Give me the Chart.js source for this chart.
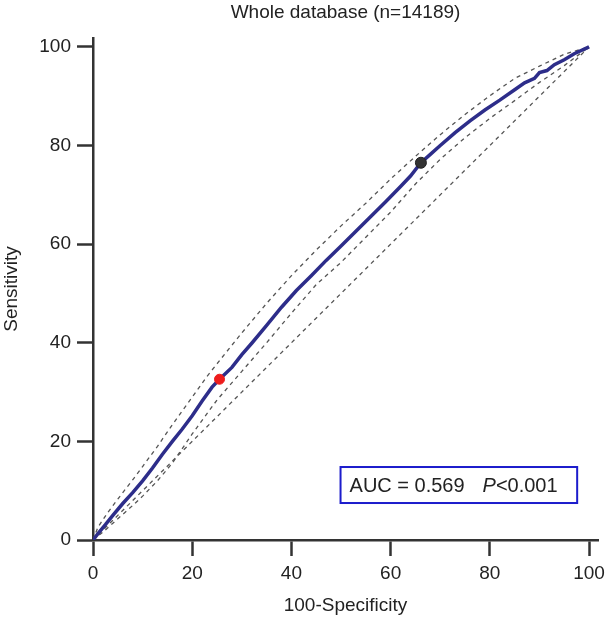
<!DOCTYPE html>
<html>
<head>
<meta charset="utf-8">
<title>Whole database (n=14189)</title>
<script src="https://cdn.jsdelivr.net/npm/chart.js@4.4.1/dist/chart.umd.min.js"></script>
<style>
  html, body { margin: 0; padding: 0; background: #fff; }
  #wrap { width: 606px; height: 619px; }
</style>
</head>
<body>
<div id="wrap"><canvas id="rocChart" width="606" height="619"></canvas></div>
<script>
  // ROC curve (100-specificity vs sensitivity)
  const rocX = [0, 1, 2.5, 4, 6, 8, 10, 12, 14, 16, 18, 20, 22, 24, 25.5, 28, 30, 32, 35, 38, 41, 44, 47, 50, 53, 56, 59, 62, 64, 66.1, 68, 70, 73, 76, 79, 82, 85, 87, 89, 90, 91.5, 93, 95, 97, 100];
  const rocY = [0, 1.3, 3.1, 5.0, 7.4, 9.6, 12.0, 14.6, 17.4, 20.0, 22.5, 25.2, 28.2, 31.0, 32.6, 35.0, 37.6, 39.9, 43.5, 47.2, 50.6, 53.6, 56.7, 59.6, 62.6, 65.6, 68.6, 71.7, 73.8, 76.5, 78.2, 80.0, 82.6, 85.0, 87.2, 89.2, 91.3, 92.7, 93.6, 94.8, 95.2, 96.4, 97.4, 98.6, 100];

  // 95% confidence bounds
  const ciUpX = [0, 1, 3, 5, 8, 10, 13, 16, 20, 23, 26, 30, 35, 40, 45, 50, 55, 60, 65, 70, 75, 80, 85, 90, 95, 100];
  const ciUpY = [0, 2.6, 5.6, 8.3, 12.2, 14.9, 19.0, 23.4, 29.0, 33.2, 37.0, 42.0, 48.0, 53.6, 58.8, 63.7, 68.3, 73.2, 77.8, 82.2, 86.3, 90.1, 93.6, 96.1, 98.5, 100];
  const ciLoX = [0, 2, 5, 8, 10, 13, 16, 20, 25, 30, 35, 40, 45, 50, 55, 60, 65, 70, 75, 80, 85, 90, 95, 100];
  const ciLoY = [0, 1.6, 4.3, 7.0, 8.9, 12.0, 15.6, 21.5, 28.4, 34.2, 40.0, 46.0, 51.8, 56.3, 61.4, 66.5, 72.2, 77.2, 81.6, 85.5, 89.1, 92.8, 96.2, 100];

  // chance line
  const diagX = [0, 100];
  const diagY = [0, 100];

  // marked cut-offs
  const redPoint = [25.5, 32.6];
  const blackPoint = [66.1, 76.5];

  const tickValues = [0, 20, 40, 60, 80, 100];
  const aucText = 'AUC = 0.569';
  const pText = '<0.001';

  const FONT = '"Liberation Sans", Arial, sans-serif';
  const AXIS = '#333333';

  function pts(xs, ys) {
    return xs.map((x, i) => ({ x, y: ys[i] }));
  }

  function dashed(xs, ys) {
    return {
      data: pts(xs, ys),
      xAxisID: 'x',
      yAxisID: 'y',
      showLine: true,
      borderColor: '#555555',
      borderWidth: 1.3,
      borderDash: [4, 4],
      pointRadius: 0,
      tension: 0
    };
  }

  // AUC label box in the lower right of the plot
  const aucBox = {
    id: 'aucBox',
    afterDatasetsDraw(chart) {
      const { ctx, scales: { x, y } } = chart;
      const left = x.getPixelForValue(49.9);
      const right = x.getPixelForValue(97.6);
      const top = y.getPixelForValue(14.8);
      const bottom = y.getPixelForValue(7.5);
      ctx.save();
      ctx.fillStyle = '#ffffff';
      ctx.fillRect(left, top, right - left, bottom - top);
      ctx.strokeStyle = '#1c1ccc';
      ctx.lineWidth = 2;
      ctx.strokeRect(left, top, right - left, bottom - top);
      ctx.fillStyle = '#222222';
      ctx.textBaseline = 'middle';
      const mid = (top + bottom) / 2 + 1;
      ctx.font = '20px ' + FONT;
      ctx.fillText(aucText, left + 9, mid);
      let px = left + 142;
      ctx.font = 'italic 20px ' + FONT;
      ctx.fillText('P', px, mid);
      px += ctx.measureText('P').width;
      ctx.font = '20px ' + FONT;
      ctx.fillText(pText, px, mid);
      ctx.restore();
    }
  };

  function fixedTicks(scale) {
    scale.ticks = tickValues.map((v) => ({ value: v }));
  }

  // keep the plot box where the figure has it, ignore label overhang
  function noOverhang(scale) {
    scale.paddingLeft = 0;
    scale.paddingRight = 0;
    scale.paddingTop = 0;
    scale.paddingBottom = 0;
  }

  new Chart(document.getElementById('rocChart'), {
    type: 'scatter',
    data: {
      datasets: [
        {
          data: [{ x: redPoint[0], y: redPoint[1] }],
          xAxisID: 'x',
          yAxisID: 'y',
          pointRadius: 5,
          pointBackgroundColor: '#ee1c1c',
          pointBorderColor: '#ee1c1c',
          showLine: false
        },
        {
          data: [{ x: blackPoint[0], y: blackPoint[1] }],
          xAxisID: 'x',
          yAxisID: 'y',
          pointRadius: 5.5,
          pointBackgroundColor: '#333333',
          pointBorderColor: '#222222',
          showLine: false
        },
        {
          data: pts(rocX, rocY),
          xAxisID: 'x',
          yAxisID: 'y',
          showLine: true,
          borderColor: '#2d2d8a',
          borderWidth: 3.5,
          pointRadius: 0,
          tension: 0
        },
        dashed(ciUpX, ciUpY),
        dashed(ciLoX, ciLoY),
        dashed(diagX, diagY)
      ]
    },
    options: {
      responsive: false,
      animation: false,
      layout: { padding: { left: 0, right: 8, top: 0, bottom: 2 } },
      plugins: {
        legend: { display: false },
        tooltip: { enabled: false },
        title: { display: false }
      },
      scales: {
        x: {
          type: 'linear',
          min: 0,
          max: 101.8,
          afterBuildTicks: fixedTicks,
          afterFit(scale) { scale.height = 77; noOverhang(scale); },
          border: { color: AXIS, width: 2.5 },
          grid: { drawOnChartArea: false, tickLength: 16, tickColor: AXIS, tickWidth: 2.5 },
          ticks: { color: '#222222', padding: 6, maxRotation: 0, font: { family: FONT, size: 19 } },
          title: {
            display: true,
            text: '100-Specificity',
            color: '#222222',
            padding: { top: 0, bottom: 0 },
            font: { family: FONT, size: 19 }
          }
        },
        y: {
          type: 'linear',
          min: 0,
          max: 101.8,
          afterBuildTicks: fixedTicks,
          afterFit(scale) { scale.width = 93; noOverhang(scale); },
          border: { color: AXIS, width: 2.5 },
          grid: { drawOnChartArea: false, tickLength: 16, tickColor: AXIS, tickWidth: 2.5 },
          ticks: { color: '#222222', padding: 6, font: { family: FONT, size: 19 } },
          title: {
            display: true,
            text: 'Sensitivity',
            color: '#222222',
            padding: { top: 0, bottom: 0 },
            font: { family: FONT, size: 19 }
          }
        },
        // top axis only carries the title, centred over the plot area
        xTop: {
          type: 'linear',
          position: 'top',
          min: 0,
          max: 101.8,
          afterFit(scale) { scale.height = 38; noOverhang(scale); },
          border: { display: false },
          grid: { display: false },
          ticks: { display: false },
          title: {
            display: true,
            text: 'Whole database (n=14189)',
            color: '#222222',
            padding: { top: 1, bottom: 0 },
            font: { family: FONT, size: 19 }
          }
        }
      }
    },
    plugins: [aucBox]
  });
</script>
</body>
</html>
